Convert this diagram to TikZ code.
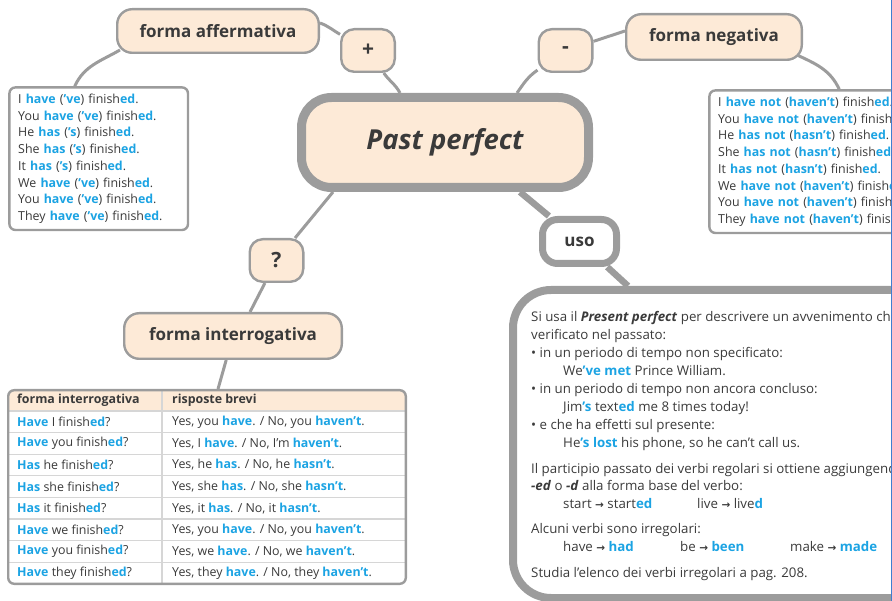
\documentclass[tikz,border=0pt]{standalone}
\usepackage{fontspec}
\setmainfont{Open Sans}
\newfontfamily\arrowfont{DejaVu Sans}
\usetikzlibrary{positioning,backgrounds}
\definecolor{peach}{HTML}{FDEAD7}
\definecolor{framegrey}{HTML}{9C9C9C}
\definecolor{inkgrey}{HTML}{3A3A3A}
\definecolor{cyanhi}{HTML}{1BA3E3}
\definecolor{rowline}{HTML}{D6D6D6}
\definecolor{edgeblue}{HTML}{3F7FD0}
\newcommand{\blu}[1]{{\bfseries\color{cyanhi}#1}}
\newcommand{\arr}{{\arrowfont\bfseries\fontsize{10.5}{10}\selectfont →}}

\begin{document}
\begin{tikzpicture}[x=1pt,y=1pt,
  bubble/.style={draw=framegrey,fill=peach,line width=2.4pt,rounded corners=15pt,
                 font=\bfseries\fontsize{17}{18}\selectfont,text=inkgrey,inner sep=0pt},
  sign/.style={bubble,minimum width=53.6pt,minimum height=42.6pt,rounded corners=13pt,
               font=\bfseries\fontsize{21}{21}\selectfont},
  listbox/.style={draw=framegrey,fill=white,line width=2.4pt,rounded corners=6pt,
                  anchor=north west,align=left,inner xsep=8.8pt,inner ysep=0pt,
                  text=inkgrey,font=\fontsize{12.4}{16.7}\selectfont},
  cell/.style={anchor=west,inner sep=0pt,text=inkgrey,font=\fontsize{12.4}{14}\selectfont},
  link/.style={draw=framegrey,line width=3pt},
  thicklink/.style={draw=framegrey,line width=6.5pt},
]
\useasboundingbox (0,0) rectangle (892,-601);
\clip (0,0) rectangle (892,-601);

% centre
\node[bubble,line width=9pt,rounded corners=30pt,minimum width=287pt,minimum height=90pt,
      font=\bfseries\itshape\fontsize{27.5}{30}\selectfont] (title) at (445,-142.5) {Past perfect};

% forma affermativa
\node[sign] (plus) at (368,-50.5) {+};
\node[bubble,minimum width=201.6pt,minimum height=43.6pt] (affirm) at (218,-31) {forma affermativa};
\node[listbox,text width=161pt,minimum height=142.6pt] (affbox) at (8.2,-86.2)
  {I \blu{have} (\blu{'ve}) finish\blu{ed}.\\
   You \blu{have} (\blu{'ve}) finish\blu{ed}.\\
   He \blu{has} (\blu{'s}) finish\blu{ed}.\\
   She \blu{has} (\blu{'s}) finish\blu{ed}.\\
   It \blu{has} (\blu{'s}) finish\blu{ed}.\\
   We \blu{have} (\blu{'ve}) finish\blu{ed}.\\
   You \blu{have} (\blu{'ve}) finish\blu{ed}.\\
   They \blu{have} (\blu{'ve}) finish\blu{ed}.};

% forma negativa
\node[sign] (minus) at (565.5,-50.5) {-};
\node[bubble,minimum width=175.6pt,minimum height=45.6pt] (negat) at (714,-37) {forma negativa};
\node[listbox,text width=250pt,minimum height=142.6pt] (negbox) at (708.2,-89.2)
  {I \blu{have not} (\blu{haven't}) finish\blu{ed}.\\
   You \blu{have not} (\blu{haven't}) finish\blu{ed}.\\
   He \blu{has not} (\blu{hasn't}) finish\blu{ed}.\\
   She \blu{has not} (\blu{hasn't}) finish\blu{ed}.\\
   It \blu{has not} (\blu{hasn't}) finish\blu{ed}.\\
   We \blu{have not} (\blu{haven't}) finish\blu{ed}.\\
   You \blu{have not} (\blu{haven't}) finish\blu{ed}.\\
   They \blu{have not} (\blu{haven't}) finish\blu{ed}.};

% forma interrogativa
\node[sign] (quest) at (276.5,-260.5) {?};
\node[bubble,minimum width=217.6pt,minimum height=45.6pt] (interr) at (233,-336) {forma interrogativa};

% table
\begin{scope}
  \clip[rounded corners=6pt] (8.2,-390.2) rectangle (405.8,-583.8);
  \fill[peach] (8.2,-390.2) rectangle (405.8,-411);
  \foreach \k in {0,...,7}
    \draw[rowline,line width=1.2pt] (8.2,-411-21.6*\k) -- (405.8,-411-21.6*\k);
  \draw[rowline,line width=1.2pt] (162,-390.2) -- (162,-583.8);
\end{scope}
\node[draw=framegrey,line width=2.4pt,rounded corners=6pt,minimum width=397.6pt,
      minimum height=193.6pt] (tab) at (207,-487) {};
\node[cell,font=\bfseries\fontsize{12.4}{14}\selectfont] (h1) at (17,-400.5) {forma interrogativa};
\node[cell,font=\bfseries\fontsize{12.4}{14}\selectfont] (h2) at (172,-400.5) {risposte brevi};
\node[cell] (q1) at (17,-421.8) {\blu{Have} I finish\blu{ed}?};
\node[cell] (a1) at (172,-421.8) {Yes, you \blu{have}. / No, you \blu{haven't}.};
\node[cell] (q2) at (17,-443.4) {\blu{Have} you finish\blu{ed}?};
\node[cell] (a2) at (172,-443.4) {Yes, I \blu{have}. / No, I'm \blu{haven't}.};
\node[cell] (q3) at (17,-465) {\blu{Has} he finish\blu{ed}?};
\node[cell] (a3) at (172,-465) {Yes, he \blu{has}. / No, he \blu{hasn't}.};
\node[cell] (q4) at (17,-486.6) {\blu{Has} she finish\blu{ed}?};
\node[cell] (a4) at (172,-486.6) {Yes, she \blu{has}. / No, she \blu{hasn't}.};
\node[cell] (q5) at (17,-508.2) {\blu{Has} it finish\blu{ed}?};
\node[cell] (a5) at (172,-508.2) {Yes, it \blu{has}. / No, it \blu{hasn't}.};
\node[cell] (q6) at (17,-529.8) {\blu{Have} we finish\blu{ed}?};
\node[cell] (a6) at (172,-529.8) {Yes, you \blu{have}. / No, you \blu{haven't}.};
\node[cell] (q7) at (17,-551.4) {\blu{Have} you finish\blu{ed}?};
\node[cell] (a7) at (172,-551.4) {Yes, we \blu{have}. / No, we \blu{haven't}.};
\node[cell] (q8) at (17,-573) {\blu{Have} they finish\blu{ed}?};
\node[cell] (a8) at (172,-573) {Yes, they \blu{have}. / No, they \blu{haven't}.};

% uso
\node[bubble,fill=white,line width=7pt,minimum width=74pt,minimum height=44pt] (uso) at (579.5,-241.5) {uso};
\node[draw=framegrey,line width=8pt,rounded corners=38pt,anchor=north west,
      minimum width=500pt,minimum height=308pt] (usobox) at (509,-286) {};
\node[anchor=north west,align=left,inner sep=0pt,text=inkgrey,
      font=\fontsize{13.3}{17.9}\selectfont] (usotext) at (531,-311.5)
  {Si usa il \textbf{\textit{Present perfect}} per descrivere un avvenimento che si è\\
   verificato nel passato:\\
   • in un periodo di tempo non specificato:\\
   \hspace*{32pt}We\blu{'ve met} Prince William.\\
   • in un periodo di tempo non ancora concluso:\\
   \hspace*{32pt}Jim\blu{'s} text\blu{ed} me 8 times today!\\
   • e che ha effetti sul presente:\\
   \hspace*{32pt}He\blu{'s lost} his phone, so he can't call us.\\[8pt]
   Il participio passato dei verbi regolari si ottiene aggiungendo\\
   \textbf{\textit{-ed}} o \textbf{\textit{-d}} alla forma base del verbo:\\
   \hspace*{32pt}\makebox[134pt][l]{start \arr\ start\blu{ed}}live \arr\ live\blu{d}\\[7pt]
   Alcuni verbi sono irregolari:\\
   \hspace*{32pt}\makebox[117pt][l]{have \arr\ \blu{had}}\makebox[110pt][l]{be \arr\ \blu{been}}make \arr\ \blu{made}\\[8pt]
   Studia l'elenco dei verbi irregolari a pag. 208.};

% connectors
\begin{scope}[on background layer]
  \draw[link] ([shift={(4pt,4pt)}]affirm.south west) to[out=210,in=65] ([xshift=-24pt]affbox.north);
  \draw[link] ([yshift=8pt]affirm.east) to[out=-20,in=150] (plus);
  \draw[link] (plus) to[out=-55,in=118] ([xshift=-45pt]title.north);
  \draw[link] ([xshift=-112pt]title.south) -- (quest);
  \draw[link] (quest) -- ([xshift=17pt]interr.north);
  \draw[link] (interr) -- ([xshift=11pt]tab.north);
  \draw[link] ([xshift=72pt]title.north) to[out=55,in=215] (minus);
  \draw[link] (minus) -- ([yshift=6pt]negat.west);
  \draw[link] ([shift={(-6pt,6pt)}]negat.south east) to[out=-25,in=115] ([xshift=131pt]negbox.north west);
  \draw[thicklink] ([xshift=75pt]title.south) -- (uso);
  \draw[thicklink] (uso) -- ([xshift=119pt]usobox.north west);
\end{scope}

\draw[edgeblue,line width=1pt] (891.5,0) -- (891.5,-601);
\end{tikzpicture}
\end{document}
